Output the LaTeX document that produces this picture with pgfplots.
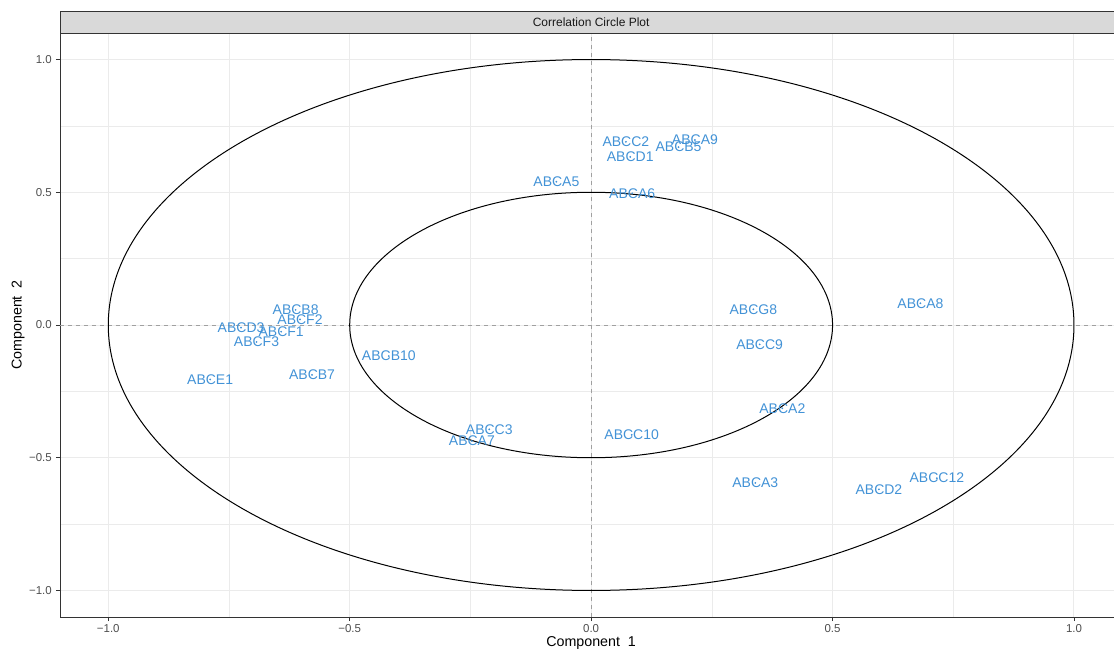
\documentclass[border=0pt]{standalone}
\usepackage{fontspec}
\setmainfont{Liberation Sans}
\usepackage{pgfplots}
\pgfplotsset{compat=1.18}
\usepackage{pgfplotstable}
\definecolor{lblue}{RGB}{66,146,214}
\definecolor{gridc}{HTML}{EBEBEB}
\definecolor{frame}{HTML}{333333}
\definecolor{tickc}{HTML}{4D4D4D}
\definecolor{stripc}{HTML}{D9D9D9}
\definecolor{dashc}{HTML}{A0A0A0}
\pgfplotstableread{
x y label
0.072 0.690 ABCC2
0.215 0.697 ABCA9
0.181 0.670 ABCB5
0.081 0.633 ABCD1
-0.072 0.540 ABCA5
0.085 0.496 ABCA6
-0.612 0.057 ABCB8
-0.603 0.021 ABCF2
-0.725 -0.010 ABCD3
-0.642 -0.025 ABCF1
-0.693 -0.064 ABCF3
-0.419 -0.117 ABCB10
-0.789 -0.205 ABCE1
-0.578 -0.188 ABCB7
-0.211 -0.393 ABCC3
-0.247 -0.437 ABCA7
0.084 -0.414 ABCC10
0.336 0.059 ABCG8
0.682 0.082 ABCA8
0.349 -0.073 ABCC9
0.396 -0.314 ABCA2
0.340 -0.595 ABCA3
0.596 -0.619 ABCD2
0.716 -0.577 ABCC12
}\genes
\begin{document}
\begin{tikzpicture}
\useasboundingbox (-45pt,-27.75pt) rectangle (790.5pt,462.75pt);
\clip (-45pt,-27.75pt) rectangle (790.5pt,462.75pt);
\begin{axis}[
  name=ax,
  at={(0,0)}, anchor=south west,
  scale only axis,
  width=796.7pt, height=438pt,
  xmin=-1.1, xmax=1.1, ymin=-1.1, ymax=1.1,
  xtick={-1,-0.5,0,0.5,1},
  ytick={-1,-0.5,0,0.5,1},
  xticklabels={−1.0,−0.5,0.0,0.5,1.0},
  yticklabels={−1.0,−0.5,0.0,0.5,1.0},
  minor xtick={-0.75,-0.25,0.25,0.75},
  minor ytick={-0.75,-0.25,0.25,0.75},
  minor tick length=0pt,
  grid=both,
  major grid style={color=gridc, line width=0.75pt},
  minor grid style={color=gridc, line width=0.4pt},
  axis line style={draw=frame, line width=0.6pt},
  tick align=outside,
  major tick length=3pt,
  tick style={color=frame, line width=0.5pt},
  xtick pos=bottom, ytick pos=left,
  xticklabel style={font=\fontsize{8.6}{10}\selectfont, text=tickc, inner sep=0pt, anchor=north, yshift=-2.5pt},
  yticklabel style={font=\fontsize{8.6}{10}\selectfont, text=tickc, inner sep=0pt, anchor=east, xshift=-3pt},
  xlabel={Component\ \ 1},
  ylabel={Component\ \ 2},
  xlabel style={font=\fontsize{10.7}{12}\selectfont, at={(axis description cs:0.5,0)}, anchor=center, yshift=-19.5pt},
  ylabel style={font=\fontsize{10.7}{12}\selectfont, at={(axis description cs:0,0.5)}, anchor=center, yshift=31.5pt},
  clip=true,
]
\draw[dashc, dash pattern=on 3pt off 3pt, line width=0.5pt] (axis cs:0,-1.1) -- (axis cs:0,1.1);
\draw[dashc, dash pattern=on 3pt off 3pt, line width=0.5pt] (axis cs:-1.1,0) -- (axis cs:1.1,0);
\draw[black, line width=0.75pt] (axis cs:0,0) ellipse [x radius=1, y radius=1];
\draw[black, line width=0.75pt] (axis cs:0,0) ellipse [x radius=0.5, y radius=0.5];
\addplot[only marks, mark=*, mark size=0.45pt, color=lblue,
  nodes near coords, point meta=explicit symbolic,
  every node near coord/.append style={anchor=center, inner sep=0pt, font=\fontsize{10.5}{12}\selectfont, text=lblue}]
  table[x=x, y=y, meta=label] {\genes};
\end{axis}
\draw[fill=stripc, draw=frame, line width=0.6pt] (ax.north west) rectangle ([yshift=16.5pt]ax.north east);
\node[font=\fontsize{9}{10}\selectfont, text=black!90, anchor=center] at ([yshift=8.25pt]ax.north) {Correlation Circle Plot};
\end{tikzpicture}
\end{document}
